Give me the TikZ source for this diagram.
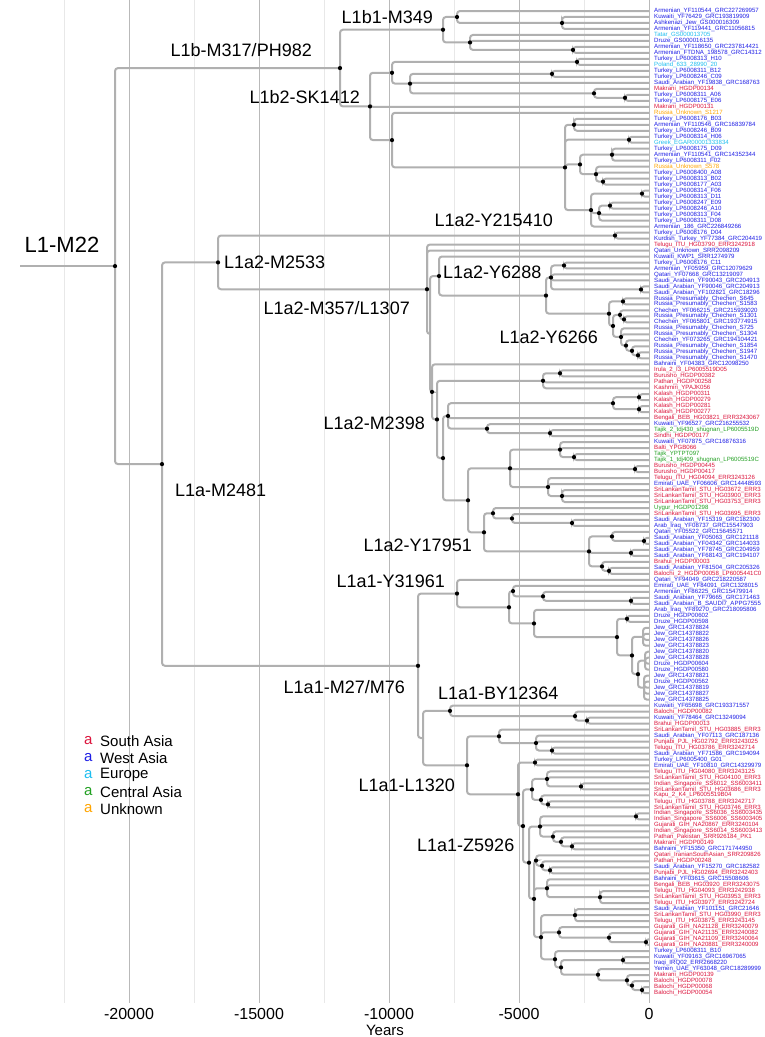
\documentclass[tikz,border=0pt]{standalone}
\usepackage{fontspec}
\setmainfont{Liberation Sans}
\usetikzlibrary{calc}
\pgfdeclarelayer{front}
\pgfsetlayers{main,front}
\definecolor{cSA}{RGB}{220,20,60}
\definecolor{cWA}{RGB}{30,30,230}
\definecolor{cEU}{RGB}{30,190,240}
\definecolor{cCA}{RGB}{34,160,34}
\definecolor{cUN}{RGB}{255,165,0}
\definecolor{cBranch}{RGB}{176,176,176}
\definecolor{cGridMaj}{RGB}{185,185,185}
\definecolor{cGridMin}{RGB}{232,232,232}
\tikzset{
  branch/.style={draw=cBranch, line width=2pt, rounded corners=3pt},
  tip/.style={anchor=west, inner sep=0pt, font=\fontsize{6.1}{6.1}\selectfont},
  cladelab/.style={inner sep=0pt, font=\fontsize{18}{18}\selectfont},
  gridmaj/.style={draw=cGridMaj, line width=0.8pt},
  gridmin/.style={draw=cGridMin, line width=0.6pt},
  legtxt/.style={anchor=west, inner sep=0pt, font=\fontsize{15}{15}\selectfont},
  axlab/.style={inner sep=0pt, font=\fontsize{16}{16}\selectfont},
}
% clade: name, x position, children (y = mid of first and last child)
\newcommand\cladepos[3]{%
  \foreach \ch [count=\k] in {#3}{\ifnum\k=1 \xdef\cfirst{\ch}\fi\xdef\clast{\ch}}%
  \path ($(\cfirst)!.5!(\clast)$) coordinate (cm);%
  \coordinate (#1) at (#2,0 |- cm);%
  \foreach \ch in {#3}{\draw[branch] (#1) |- (\ch);}%
}
\newcommand\clade[3]{\cladepos{#1}{#2}{#3}%
  \begin{pgfonlayer}{front}\fill (#1) circle (2.1pt);\end{pgfonlayer}}
\newcommand\cladeo[3]{\cladepos{#1}{#2}{#3}}

\begin{document}
\begin{tikzpicture}[x=1pt, y=-1pt]
\useasboundingbox (0,0) rectangle (764,1037);
\fill[white] (0,0) rectangle (764,1037);

%% grid
\foreach \gx in {64,194,324,454,584}
  \draw[gridmin] (\gx,0) -- (\gx,1003);
\foreach \gx in {129,259,389,519,649}
  \draw[gridmaj] (\gx,0) -- (\gx,1003);

%% tips
\foreach \i/\nm/\cl in {
1/Armenian\_YF110544\_GRC227269957/cWA, 2/Kuwaiti\_YF76429\_GRC193819909/cWA,
3/Ashkenazi\_Jew\_GS000016309/cWA, 4/Armenian\_YF119441\_GRC11056815/cWA,
5/Tatar\_GS000013705/cEU, 6/Druze\_GS000016135/cWA,
7/Armenian\_YF118650\_GRC237814421/cWA, 8/Armenian\_FTDNA\_198578\_GRC14312/cWA,
9/Turkey\_LP6008313\_H10/cWA, 10/Poland\_633\_28990\_20/cEU,
11/Turkey\_LP6008311\_B12/cWA, 12/Turkey\_LP6008246\_C09/cWA,
13/Saudi\_Arabian\_YF19838\_GRC168763/cWA, 14/Makrani\_HGDP00134/cSA,
15/Turkey\_LP6008311\_A06/cWA, 16/Turkey\_LP6008175\_E06/cWA,
17/Makrani\_HGDP00131/cSA, 18/Russia\_Unknown\_S1217/cUN,
19/Turkey\_LP6008176\_B03/cWA, 20/Armenian\_YF110546\_GRC16839784/cWA,
21/Turkey\_LP6008246\_B09/cWA, 22/Turkey\_LP6008314\_H06/cWA,
23/Greek\_EGAR00001333834/cEU, 24/Turkey\_LP6008175\_D09/cWA,
25/Armenian\_YF110541\_GRC14352344/cWA, 26/Turkey\_LP6008311\_F02/cWA,
27/Russia\_Unknown\_S578/cUN, 28/Turkey\_LP6008400\_A08/cWA,
29/Turkey\_LP6008313\_B02/cWA, 30/Turkey\_LP6008177\_A03/cWA,
31/Turkey\_LP6008314\_F06/cWA, 32/Turkey\_LP6008313\_D11/cWA,
33/Turkey\_LP6008247\_E09/cWA, 34/Turkey\_LP6008246\_A10/cWA,
35/Turkey\_LP6008313\_F04/cWA, 36/Turkey\_LP6008311\_D08/cWA,
37/Armenian\_186\_GRC226849266/cWA, 38/Turkey\_LP6008176\_D04/cWA,
39/Kurdish\_Turkey\_YF77384\_GRC204419/cWA, 40/Telugu\_ITU\_HG03790\_ERR3242918/cSA,
41/Qatari\_Unknown\_SRR2098209/cWA, 42/Kuwaiti\_KWP1\_SRR1274979/cWA,
43/Turkey\_LP6008176\_C11/cWA, 44/Armenian\_YF05959\_GRC12079629/cWA,
45/Qatari\_YF07668\_GRC13219097/cWA, 46/Saudi\_Arabian\_YF90043\_GRC204913/cWA,
47/Saudi\_Arabian\_YF90046\_GRC204913/cWA, 48/Saudi\_Arabian\_YF102821\_GRC18296/cWA,
49/Russia\_Presumably\_Chechen\_S645/cWA, 50/Russia\_Presumably\_Chechen\_S1583/cWA,
51/Chechen\_YF066215\_GRC215939020/cWA, 52/Russia\_Presumably\_Chechen\_S1301/cWA,
53/Chechen\_YF065801\_GRC193774915/cWA, 54/Russia\_Presumably\_Chechen\_S725/cWA,
55/Russia\_Presumably\_Chechen\_S1304/cWA, 56/Chechen\_YF073265\_GRC194104421/cWA,
57/Russia\_Presumably\_Chechen\_S1854/cWA, 58/Russia\_Presumably\_Chechen\_S1947/cWA,
59/Russia\_Presumably\_Chechen\_S1470/cWA, 60/Bahraini\_YF04383\_GRC12098250/cWA,
61/Irula\_2\_I3\_LP6005519D05/cSA, 62/Burusho\_HGDP00382/cSA,
63/Pathan\_HGDP00258/cSA, 64/Kashmiri\_YPAJK056/cSA,
65/Kalash\_HGDP00311/cSA, 66/Kalash\_HGDP00279/cSA,
67/Kalash\_HGDP00281/cSA, 68/Kalash\_HGDP00277/cSA,
69/Bengali\_BEB\_HG03821\_ERR3243067/cSA, 70/Kuwaiti\_YF96527\_GRC216255532/cWA,
71/Tajik\_2\_tdj430\_shugnan\_LP6005519D/cCA, 72/Sindhi\_HGDP00177/cSA,
73/Kuwaiti\_YF07875\_GRC16876316/cWA, 74/Balti\_YPGB066/cSA,
75/Tajik\_YPTPT097/cCA, 76/Tajik\_1\_tdj409\_shugnan\_LP6005519C/cCA,
77/Burusho\_HGDP00445/cSA, 78/Burusho\_HGDP00417/cSA,
79/Telugu\_ITU\_HG04094\_ERR3243126/cSA, 80/Emirati\_UAE\_YF06606\_GRC14448593/cWA,
81/SriLankanTamil\_STU\_HG03672\_ERR3/cSA, 82/SriLankanTamil\_STU\_HG03900\_ERR3/cSA,
83/SriLankanTamil\_STU\_HG03753\_ERR3/cSA, 84/Uygur\_HGDP01298/cCA,
85/SriLankanTamil\_STU\_HG03695\_ERR3/cSA, 86/Saudi\_Arabian\_YF15319\_GRC182300/cWA,
87/Arab\_Iraq\_YF08737\_GRC15547903/cWA, 88/Qatari\_YF05522\_GRC15645571/cWA,
89/Saudi\_Arabian\_YF05063\_GRC121118/cWA, 90/Saudi\_Arabian\_YF04342\_GRC144033/cWA,
91/Saudi\_Arabian\_YF78745\_GRC204959/cWA, 92/Saudi\_Arabian\_YF68143\_GRC194107/cWA,
93/Brahui\_HGDP00003/cSA, 94/Saudi\_Arabian\_YF81504\_GRC205326/cWA,
95/Balochi\_2\_HGDP00058\_LP6005441C0/cSA, 96/Qatari\_YF94049\_GRC218220587/cWA,
97/Emirati\_UAE\_YF84091\_GRC1328015/cWA, 98/Armenian\_YF86225\_GRC15479914/cWA,
99/Saudi\_Arabian\_YF79665\_GRC171463/cWA, 100/Saudi\_Arabian\_B\_SAUDI7\_APPG7555/cWA,
101/Arab\_Iraq\_YF89270\_GRC218095806/cWA, 102/Druze\_HGDP00602/cWA,
103/Druze\_HGDP00598/cWA, 104/Jew\_GRC14378824/cWA,
105/Jew\_GRC14378822/cWA, 106/Jew\_GRC14378826/cWA,
107/Jew\_GRC14378823/cWA, 108/Jew\_GRC14378820/cWA,
109/Jew\_GRC14378828/cWA, 110/Druze\_HGDP00604/cWA,
111/Druze\_HGDP00580/cWA, 112/Jew\_GRC14378821/cWA,
113/Druze\_HGDP00562/cWA, 114/Jew\_GRC14378819/cWA,
115/Jew\_GRC14378827/cWA, 116/Jew\_GRC14378825/cWA,
117/Kuwaiti\_YF65698\_GRC193371557/cWA, 118/Balochi\_HGDP00082/cSA,
119/Kuwaiti\_YF78464\_GRC13249094/cWA, 120/Brahui\_HGDP00013/cSA,
121/SriLankanTamil\_STU\_HG03885\_ERR3/cSA, 122/Saudi\_Arabian\_YF07113\_GRC187136/cWA,
123/Punjabi\_PJL\_HG02792\_ERR3243025/cSA, 124/Telugu\_ITU\_HG03786\_ERR3242714/cSA,
125/Saudi\_Arabian\_YF71586\_GRC194094/cWA, 126/Turkey\_LP6005400\_G01/cWA,
127/Emirati\_UAE\_YF10810\_GRC14329979/cWA, 128/Telugu\_ITU\_HG04080\_ERR3243125/cSA,
129/SriLankanTamil\_STU\_HG04100\_ERR3/cSA, 130/Indian\_Singapore\_SS6012\_SS6003411/cSA,
131/SriLankanTamil\_STU\_HG03686\_ERR3/cSA, 132/Kapu\_2\_K4\_LP6005519B04/cSA,
133/Telugu\_ITU\_HG03788\_ERR3242717/cSA, 134/SriLankanTamil\_STU\_HG03746\_ERR3/cSA,
135/Indian\_Singapore\_SS6036\_SS6003435/cSA, 136/Indian\_Singapore\_SS6006\_SS6003405/cSA,
137/Gujarati\_GIH\_NA20867\_ERR3240104/cSA, 138/Indian\_Singapore\_SS6014\_SS6003413/cSA,
139/Pathan\_Pakistan\_SRR926184\_PK1/cSA, 140/Makrani\_HGDP00149/cSA,
141/Bahraini\_YF15350\_GRC171744950/cWA, 142/Qatari\_IranianSouthAsian\_SRR209826/cSA,
143/Pathan\_HGDP00248/cSA, 144/Saudi\_Arabian\_YF15270\_GRC182582/cWA,
145/Punjabi\_PJL\_HG02694\_ERR3242403/cSA, 146/Bahraini\_YF03615\_GRC15508606/cWA,
147/Bengali\_BEB\_HG03920\_ERR3243075/cSA, 148/Telugu\_ITU\_HG04093\_ERR3242938/cSA,
149/SriLankanTamil\_STU\_HG03953\_ERR3/cSA, 150/Telugu\_ITU\_HG03977\_ERR3242724/cSA,
151/Saudi\_Arabian\_YF101151\_GRC21646/cWA, 152/SriLankanTamil\_STU\_HG03990\_ERR3/cSA,
153/Telugu\_ITU\_HG03875\_ERR3243145/cSA, 154/Gujarati\_GIH\_NA21128\_ERR3240079/cSA,
155/Gujarati\_GIH\_NA21135\_ERR3240082/cSA, 156/Gujarati\_GIH\_NA21109\_ERR3240064/cSA,
157/Gujarati\_GIH\_NA20881\_ERR3240009/cSA, 158/Turkey\_LP6008311\_B10/cWA,
159/Kuwaiti\_YF09163\_GRC16967065/cWA, 160/Iraqi\_IRQ02\_ERR2668220/cWA,
161/Yemen\_UAE\_YF63048\_GRC18289999/cWA, 162/Makrani\_HGDP00139/cSA,
163/Balochi\_HGDP00078/cSA, 164/Balochi\_HGDP00068/cSA,
165/Balochi\_HGDP00054/cSA}
{
  \pgfmathsetmacro\ly{11+5.988*(\i-1)}
  \coordinate (t\i) at (649,\ly);
  \node[tip, text=\cl] (n\i) at (654,\ly) {\nm};
}

%% L1b1
\clade{b1c}{562}{t2,t3,t4}
\clade{b1a}{457}{t1,b1c}
\clade{b1d}{573}{t7,t8}
\clade{b1e}{470}{t5,t6,b1d}
\clade{Lbone}{443}{b1a,b1e}
%% L1b2
\clade{b2a}{577}{t9,t10}
\clade{b2b}{552}{t11,t12}
\clade{b2c}{625}{t15,t16}
\clade{b2d}{594}{t14,b2c}
\clade{b2e}{410}{b2b,t13,b2d}
\clade{b2f}{392}{b2a,b2e}
\clade{g1}{574}{t19,t20,t21}
\clade{g2}{629}{t22,t23}
\clade{g3}{612}{t24,t25,t26}
\clade{g4}{603}{t29,t30}
\clade{g5}{596}{t27,t28,g4}
\clade{g6}{580}{g3,g5}
\clade{g7}{642}{t31,t32}
\clade{g8}{610}{t33,t34}
\clade{g9}{599}{g8,t35,t36}
\clade{g10}{591}{g7,g9,t37}
\clade{g11}{565}{g1,g2,g6,g10}
\clade{b2g}{392}{t18,g11}
\clade{Lbtwo}{370}{b2f,t17,b2g}
\clade{Lb}{340}{Lbone,Lbtwo}

%% L1a2
\clade{Ya}{615}{t38,t39}
\clade{v1}{564}{t43,t44}
\clade{v2}{641}{t47,t48}
\clade{V}{551}{v1,t45,t46,v2}
\clade{c1}{623}{t49,t50}
\clade{c2}{624}{t52,t53}
\clade{ca}{620}{t51,c2}
\clade{c8}{638}{t58,t59}
\clade{c7}{632}{t57,c8}
\clade{c6}{626}{t56,c7}
\clade{c5}{621}{t54,t55,c6}
\clade{c9}{613}{ca,c5}
\clade{Chech}{609}{c1,c9}
\clade{W}{546}{V,Chech}
\clade{Yb}{439}{t42,W}
\clade{m1}{560}{t61,t62}
\clade{m2}{543}{m1,t63,t64}
\clade{m3}{639}{t65,t66}
\clade{m4}{639}{t67,t68}
\clade{m5}{613}{m3,m4}
\clade{k1}{550}{t71,t72}
\clade{k2}{487}{t70,k1}
\clade{Q}{448}{m5,t69,k2}
\clade{k3}{574}{t75,t76}
\clade{k4}{560}{t73,t74,k3}
\clade{k5}{635}{t77,t78}
\clade{k7}{562}{t81,t82,t83}
\clade{k6}{548}{t79,t80,k7}
\clade{R1}{510}{k4,k5,k6}
\clade{y4}{572}{t86,t87}
\clade{y3}{512}{t85,y4}
\clade{y1}{493}{t84,y3}
\clade{y7}{644}{t89,t90}
\clade{y5}{612}{t88,y7}
\clade{y8}{631}{t91,t92}
\clade{y9}{609}{t94,t95}
\clade{y6}{602}{t93,y9}
\clade{y2}{589}{y5,y8,y6}
\clade{Yc}{484}{y1,y2}
\clade{R}{468}{R1,Yc}
\clade{S}{443}{Q,R}
\clade{Md}{437}{m2,S}
\clade{ZZ}{432}{t60,Md}
\cladeo{Z}{430}{Yb,ZZ}
\clade{Mc}{427}{t40,t41,Z}
\clade{Mb}{218}{Ya,Mc}

%% L1a1
\clade{y24}{631}{t99,t100}
\clade{y23}{543}{t98,y24}
\clade{y21}{513}{t97,y23}
\clade{y26}{627}{t102,t103}
\cladeo{y28}{643}{t104,t105,t106,t107}
\cladeo{y30}{645}{t108,t109,t110,t111}
\cladeo{y31}{644}{t112,t113,t114,t115,t116}
\clade{y29}{638}{y30,y31}
\clade{y27}{632}{y28,y29}
\clade{y25}{617}{y26,y27}
\clade{y22}{534}{t101,y25}
\clade{Y2}{509}{y21,y22}
\clade{Ye}{457}{t96,Y2}
\clade{h1}{587}{t119,t120}
\clade{h2}{575}{t118,h1}
\clade{BY}{450}{t117,h2}
\clade{h3}{552}{t124,t125}
\clade{h4}{536}{t122,t123,h3}
\clade{h5}{499}{t121,h4}
\clade{Cone}{535}{t126,t127}
\clade{a11}{581}{t130,t131}
\clade{a12}{547}{t128,t129,a11}
\clade{a13}{548}{t133,t134}
\clade{a14}{541}{t132,a13}
\clade{A1}{532}{a12,a14}
\clade{a21}{636}{t135,t136}
\clade{a31}{572}{t140,t141}
\clade{a32}{561}{t139,a31}
\clade{A3}{553}{t138,a32}
\clade{Cthree}{540}{a21,t137,A3}
\clade{a41}{550}{t144,t145}
\clade{a42}{542}{t143,a41}
\clade{a43}{536}{t142,a42}
\clade{a45}{600}{t148,t149,t150}
\clade{a44}{547}{t146,t147,a45}
\clade{a5}{575}{t151,t152,t153}
\clade{a51}{646}{t156,t157}
\clade{a52}{609}{t155,a51}
\clade{a53}{559}{t154,a52}
\clade{a61}{623}{t159,t160}
\clade{a62}{642}{t164,t165}
\clade{a63}{632}{t163,a62}
\clade{a64}{627}{t162,a63}
\clade{a65}{598}{t161,a64}
\clade{C7}{561}{a61,a65}
\clade{C6}{555}{t158,C7}
\clade{C5}{541}{a5,a53,C6}
\clade{C4}{534}{a43,a44,C5}
\clade{C3}{529}{Cthree,C4}
\clade{C2}{523}{A1,C3}
\clade{C1}{518}{Cone,C2}
\clade{Lc}{467}{h5,C1}
\cladeo{X}{423}{BY,Lc}
\clade{La1}{418}{Ye,X}
\clade{La}{162}{Mb,La1}
\clade{root}{115}{Lb,La}
\coordinate (stem) at (20,0 |- root);
\draw[branch] (stem) -- (root);

%% clade labels
\node[cladelab, font=\fontsize{22}{22}\selectfont] (labRoot) at (62,245) {L1-M22};
\node[cladelab, anchor=east] (labLb) at (312,50) {L1b-M317/PH982};
\node[cladelab, anchor=east] (labLbone) at (433,17) {L1b1-M349};
\node[cladelab, anchor=east] (labLbtwo) at (360,97) {L1b2-SK1412};
\node[cladelab, anchor=east] (labYa) at (553,220) {L1a2-Y215410};
\node[cladelab, anchor=west] (labMb) at (224,262) {L1a2-M2533};
\node[cladelab, anchor=east] (labMc) at (410,308) {L1a2-M357/L1307};
\node[cladelab, anchor=west] (labYb) at (443,272) {L1a2-Y6288};
\node[cladelab, anchor=east] (labChech) at (598,337) {L1a2-Y6266};
\node[cladelab, anchor=east] (labMd) at (425,423) {L1a2-M2398};
\node[cladelab, anchor=east] (labYc) at (472,545) {L1a2-Y17951};
\node[cladelab, anchor=east] (labYe) at (445,581) {L1a1-Y31961};
\node[cladelab, anchor=east] (labLaone) at (405,687) {L1a1-M27/M76};
\node[cladelab, anchor=west] (labBY) at (438,693) {L1a1-BY12364};
\node[cladelab, anchor=east] (labLc) at (455,785) {L1a1-L1320};
\node[cladelab, anchor=west] (labZ) at (417,845) {L1a1-Z5926};
\node[cladelab, anchor=west] (labLa) at (175,490) {L1a-M2481};

%% legend
\foreach \ly/\cl/\tx in {741/cSA/South Asia, 758/cWA/West Asia, 775/cEU/Europe,
  792/cCA/Central Asia, 809/cUN/Unknown}
{
  \node[legtxt, text=\cl] (key\cl) at (84,\ly) {a};
  \node[legtxt] (leg\cl) at (100,\ly) {\tx};
}

%% axis
\foreach \gx/\tl in {129/-20000, 259/-15000, 389/-10000, 519/-5000, 649/0}
  \node[axlab] (tick\gx) at (\gx,1014) {\tl};
\node[axlab, font=\fontsize{15}{15}\selectfont] (axtitle) at (385,1030) {Years};
\end{tikzpicture}
\end{document}
